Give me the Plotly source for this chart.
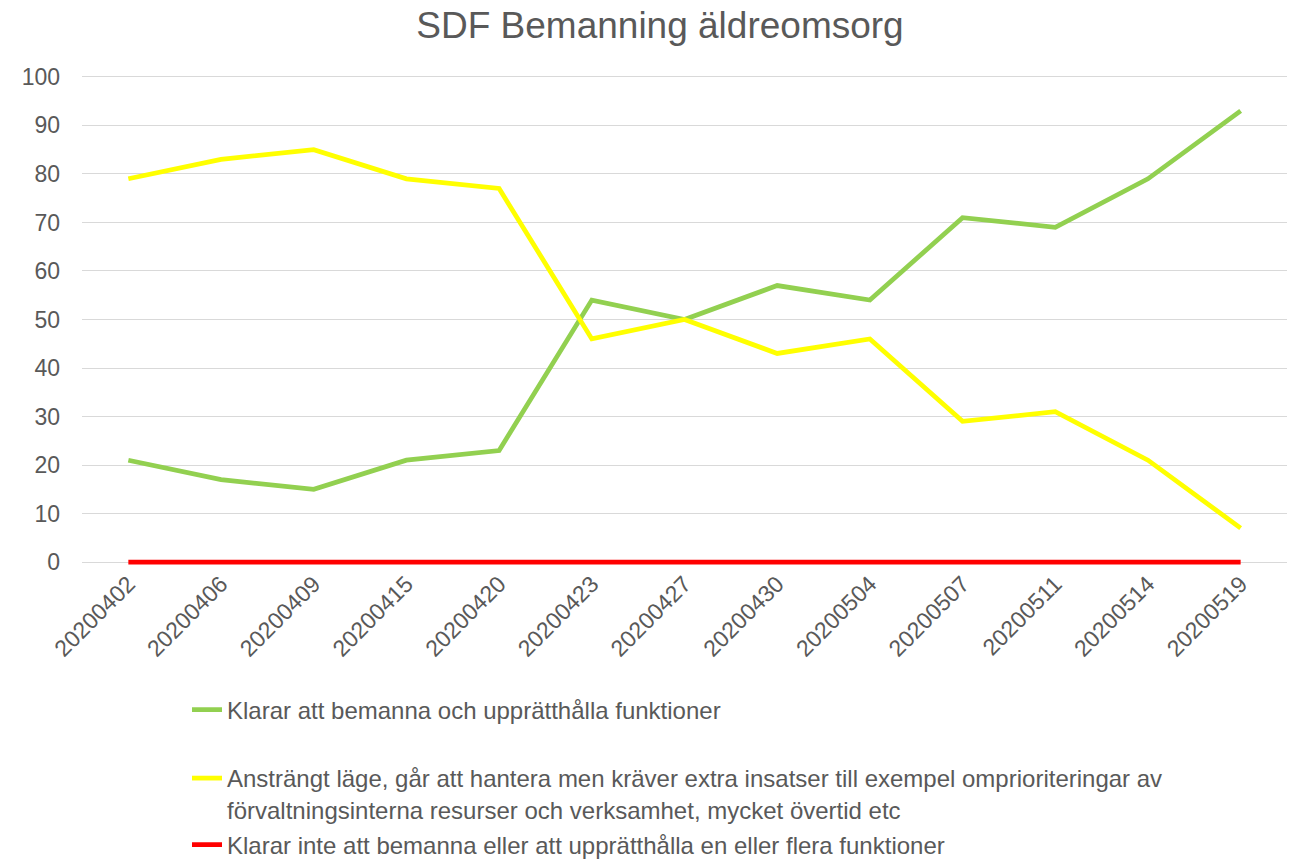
import plotly.graph_objects as go

dates = ["20200402", "20200406", "20200409", "20200415", "20200420", "20200423",
         "20200427", "20200430", "20200504", "20200507", "20200511", "20200514", "20200519"]
klarar = [21, 17, 15, 21, 23, 54, 50, 57, 54, 71, 69, 79, 93]
anstrangt = [79, 83, 85, 79, 77, 46, 50, 43, 46, 29, 31, 21, 7]
klarar_inte = [0, 0, 0, 0, 0, 0, 0, 0, 0, 0, 0, 0, 0]

names = [
    "Klarar att bemanna och upprätthålla funktioner",
    "Ansträngt läge, går att hantera men kräver extra insatser till exempel omprioriteringar av<br>förvaltningsinterna resurser och verksamhet, mycket övertid etc",
    "Klarar inte att bemanna eller att upprätthålla en eller flera funktioner",
]
colors = ["#92D050", "#FFFF00", "#FF0000"]
series = [klarar, anstrangt, klarar_inte]
legends = ["legend", "legend2", "legend3"]

FONT = "Liberation Sans, Arial, sans-serif"
GREY = "#595959"

fig = go.Figure()
for name, col, vals, lg in zip(names, colors, series, legends):
    fig.add_trace(go.Scatter(
        x=list(range(len(dates))), y=vals, mode="lines", name=name,
        line=dict(color=col, width=4.75), legend=lg,
    ))

W, H = 1299, 859
leg_x = 187 / W
common_leg = dict(xref="container", yref="container", x=leg_x, xanchor="left",
                  bgcolor="rgba(0,0,0,0)", borderwidth=0,
                  font=dict(family=FONT, size=24, color=GREY), valign="top",
                  tracegroupgap=0)

fig.update_layout(
    width=W, height=H,
    paper_bgcolor="white", plot_bgcolor="white",
    margin=dict(l=82, r=12, t=74, b=294, autoexpand=False),
    title=dict(text="SDF Bemanning äldreomsorg", xref="container", yref="container",
               x=660 / W, xanchor="center", y=1 - 25 / H, yanchor="middle",
               font=dict(family=FONT, size=37, color=GREY)),
    xaxis=dict(
        tickmode="array", tickvals=list(range(len(dates))), ticktext=dates,
        range=[-0.5, len(dates) - 0.5], tickangle=-45, showgrid=False,
        showline=False, zeroline=False, ticks="", automargin=False,
        tickfont=dict(family=FONT, size=23, color=GREY),
    ),
    yaxis=dict(
        range=[-0.6, 100.6], tickmode="linear", tick0=0, dtick=10,
        showgrid=True, gridcolor="#D9D9D9", gridwidth=1, zeroline=False,
        showline=False, ticks="", ticklabelstandoff=21, automargin=False,
        tickfont=dict(family=FONT, size=23, color=GREY),
    ),
    legend=dict(**common_leg, y=1 - 710 / H, yanchor="middle"),
    legend2=dict(**common_leg, y=1 - 756 / H, yanchor="top"),
    legend3=dict(**common_leg, y=1 - 845 / H, yanchor="middle"),
    showlegend=True,
)

fig.write_html("out.html", config={"displayModeBar": False},
               post_script="document.body.style.margin='0';")
